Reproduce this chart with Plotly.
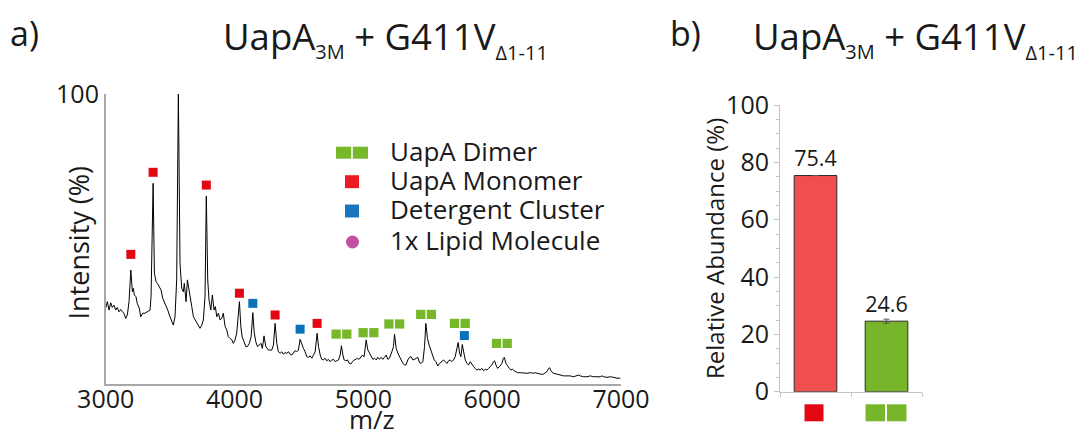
import plotly.graph_objects as go

W, H = 1084, 436

# ---------------- data: panel a (native MS spectrum) ----------------
mz = [3000, 3013, 3026, 3039, 3051, 3064, 3078, 3090, 3103, 3116, 3129, 3142, 3155, 3168, 3181,
      3195, 3207, 3215, 3222, 3235, 3245, 3261, 3272, 3287, 3305, 3323, 3344, 3352, 3368, 3378,
      3391, 3401, 3414, 3430, 3443, 3455, 3468, 3482, 3494, 3507, 3525, 3538, 3551, 3564, 3577,
      3590, 3603, 3610, 3624, 3634, 3645, 3655, 3668, 3681, 3694, 3707, 3719, 3732, 3746, 3758,
      3771, 3781, 3792, 3802, 3816, 3828, 3841, 3851, 3862, 3875, 3888, 3901, 3913, 3927, 3940,
      3952, 3965, 3979, 3991, 4004, 4017, 4030, 4038, 4049, 4059, 4074, 4087, 4100, 4115, 4129,
      4142, 4152, 4165, 4178, 4193, 4206, 4216, 4229, 4243, 4250, 4263, 4289, 4302, 4315, 4328,
      4341, 4354, 4367, 4380, 4393, 4406, 4419, 4431, 4444, 4457, 4470, 4483, 4496, 4509, 4522,
      4535, 4548, 4561, 4574, 4587, 4600, 4613, 4626, 4641, 4652, 4665, 4677, 4690, 4703, 4716,
      4729, 4742, 4755, 4768, 4781, 4794, 4807, 4820, 4830, 4841, 4851, 4864, 4877, 4890, 4903,
      4916, 4929, 4942, 4954, 4967, 4980, 4993, 5006, 5022, 5035, 5048, 5061, 5074, 5087, 5100,
      5112, 5125, 5138, 5151, 5164, 5177, 5190, 5203, 5221, 5234, 5242, 5255, 5268, 5281, 5294,
      5307, 5320, 5332, 5345, 5358, 5371, 5384, 5397, 5410, 5423, 5436, 5449, 5462, 5475, 5485,
      5498, 5511, 5524, 5537, 5550, 5563, 5578, 5591, 5610, 5623, 5635, 5648, 5661, 5674, 5687,
      5700, 5713, 5726, 5736, 5747, 5757, 5768, 5778, 5791, 5804, 5817, 5830, 5843, 5856, 5868,
      5881, 5894, 5907, 5920, 5933, 5946, 5959, 5972, 5985, 5998, 6011, 6019, 6029, 6042, 6057,
      6075, 6088, 6094, 6107, 6120, 6133, 6145, 6158, 6171, 6184, 6197, 6218, 6244, 6270, 6296,
      6322, 6334, 6347, 6373, 6399, 6425, 6438, 6446, 6459, 6477, 6503, 6529, 6554, 6580, 6606,
      6632, 6658, 6671, 6684, 6710, 6736, 6762, 6788, 6813, 6839, 6852, 6865, 6891, 6917, 6943,
      6969, 6995]
intensity = [26.1, 28.4, 25.5, 28.0, 26.4, 27.2, 25.5, 26.4, 24.9, 25.7, 24.9, 24.4, 22.6, 23.8, 28.4,
             39.3, 31.8, 33.0, 30.7, 30.1, 27.8, 26.1, 23.2, 24.4, 24.4, 24.9, 25.5, 30.1, 69.2, 38.2,
             35.3, 34.7, 33.6, 32.4, 29.5, 28.4, 26.7, 25.5, 23.8, 22.1, 20.3, 23.2, 35.9, 100.0, 41.6,
             33.0, 31.8, 34.7, 28.4, 35.9, 32.4, 30.1, 26.7, 23.2, 22.1, 20.9, 19.8, 19.2, 20.3, 22.1,
             30.1, 64.8, 35.9, 29.0, 25.5, 30.7, 25.5, 26.7, 23.2, 24.4, 22.1, 22.6, 24.4, 19.8, 18.6,
             16.3, 15.7, 15.2, 14.0, 15.2, 17.5, 23.2, 28.4, 19.8, 16.3, 14.6, 12.9, 12.9, 14.0, 16.3,
             24.6, 18.0, 14.6, 12.9, 13.4, 14.0, 12.3, 16.6, 12.9, 12.3, 11.7, 11.7, 13.4, 20.9, 14.0,
             11.1, 10.6, 11.1, 10.3, 10.8, 10.6, 11.1, 10.3, 10.0, 10.6, 11.5, 11.1, 11.7, 15.4, 13.4,
             12.3, 11.1, 9.4, 9.2, 9.7, 8.9, 10.0, 11.1, 17.5, 12.9, 10.0, 8.5, 8.3, 8.9, 8.0,
             8.5, 7.7, 8.3, 8.5, 7.7, 8.0, 8.3, 10.0, 13.2, 10.0, 8.3, 8.0, 8.3, 7.1, 6.9,
             7.7, 8.3, 8.5, 8.9, 8.5, 9.4, 10.0, 9.4, 15.2, 11.7, 10.6, 9.7, 8.5, 8.9, 8.3,
             9.2, 8.5, 9.2, 8.5, 9.2, 10.0, 8.5, 8.9, 11.1, 12.9, 17.2, 12.3, 10.6, 9.4, 8.3,
             7.1, 6.6, 6.6, 8.3, 9.2, 9.4, 8.3, 8.5, 8.9, 9.2, 7.4, 7.1, 7.7, 12.9, 20.9,
             15.7, 13.4, 11.7, 9.4, 8.3, 7.7, 6.2, 7.1, 7.7, 8.3, 7.7, 7.1, 8.0, 8.3, 7.7,
             8.3, 9.4, 11.7, 14.3, 10.6, 9.4, 13.6, 10.6, 8.3, 7.1, 6.6, 7.7, 6.6, 6.0, 5.4,
             4.8, 5.2, 4.8, 5.4, 4.6, 5.1, 4.8, 5.4, 6.0, 6.6, 7.7, 8.0, 6.6, 5.4, 6.0,
             7.1, 8.9, 9.2, 7.1, 6.0, 5.4, 4.8, 5.1, 4.6, 4.3, 3.9, 3.9, 3.7, 3.7, 3.9,
             3.7, 3.9, 3.7, 3.4, 3.4, 4.3, 5.4, 5.6, 4.3, 3.7, 3.4, 3.1, 2.8, 2.8, 2.8,
             2.5, 2.8, 3.1, 2.8, 2.5, 2.5, 2.8, 2.5, 2.5, 2.5, 2.8, 2.5, 2.3, 2.5, 2.3,
             2.0, 2.0]

# peak annotations (m/z of labelled peak, height of the label symbol in %)
mono_mz = [3195, 3368, 3564, 3781, 4038, 4315, 4641]
mono_label = [44.7, 73.0, 102.9, 68.6, 31.3, 23.8, 20.9]
det_mz = [4142, 4509, 5784]
det_label = [27.8, 18.9, 16.7]
dimer_mz = [4830, 5040, 5240, 5487, 5749, 6075]
dimer_label = [17.2, 17.7, 20.7, 24.0, 20.9, 14.0]

x_ticks = [3000, 4000, 5000, 6000, 7000]
legend_labels = ["UapA Dimer", "UapA Monomer", "Detergent Cluster", "1x Lipid Molecule"]

# ---------------- data: panel b (relative abundance) ----------------
bar_species = ["Monomer", "Dimer"]
bar_values = [75.4, 24.6]
bar_errors = [0.0, 0.7]

# ---------------- styles ----------------
FONT = "Open Sans"
TXT = "#1a1a1a"
RED = "#E30613"
BLUE = "#0A71B9"
GREEN = "#76B82A"
PURPLE = "#C2509F"
BAR_RED = "#EF4F4F"
BAR_GREEN = "#77B62A"
AX_A = "#a8a8a8"
AX_B = "#c4c4c4"


def px(x):
    return x / W


def py(y):
    return 1 - y / H


fig = go.Figure()

# spectrum
fig.add_trace(go.Scatter(x=mz, y=intensity, mode="lines",
                         line=dict(color="black", width=1),
                         xaxis="x", yaxis="y", hoverinfo="skip", showlegend=False))
# monomer + detergent labels
fig.add_trace(go.Scatter(x=mono_mz, y=mono_label, mode="markers",
                         marker=dict(symbol="square", size=9, color=RED, line=dict(width=0)),
                         cliponaxis=False, xaxis="x", yaxis="y", showlegend=False))
fig.add_trace(go.Scatter(x=det_mz, y=det_label, mode="markers",
                         marker=dict(symbol="square", size=9, color=BLUE, line=dict(width=0)),
                         cliponaxis=False, xaxis="x", yaxis="y", showlegend=False))

shapes = []
# dimer labels: pair of squares
for m, v in zip(dimer_mz, dimer_label):
    for a, b in [(-10, -0.7), (0.7, 10)]:
        shapes.append(dict(type="rect", xref="x", yref="y", xsizemode="pixel", ysizemode="pixel",
                           xanchor=m, yanchor=v, x0=a, x1=b, y0=-4.6, y1=4.6,
                           fillcolor=GREEN, line=dict(width=0)))

# bars
fig.add_trace(go.Bar(x=[0, 1], y=bar_values, width=0.6,
                     marker=dict(color=[BAR_RED, BAR_GREEN], line=dict(color="#2b2b2b", width=1)),
                     error_y=dict(type="data", array=bar_errors, color="#555555", thickness=1, width=3),
                     text=[f"{v:.1f}" for v in bar_values], textposition="outside",
                     textfont=dict(family=FONT, size=26, color=TXT),
                     cliponaxis=False, xaxis="x2", yaxis="y2", showlegend=False,
                     hovertext=bar_species))

# category symbols under the bars
shapes.append(dict(type="rect", xref="x2", yref="paper", xsizemode="pixel", ysizemode="pixel",
                   xanchor=0, yanchor=py(412.8), x0=-11, x1=8, y0=-8.5, y1=8.5,
                   fillcolor=RED, line=dict(width=0)))
for a, b in [(-21, -1.5), (0.5, 20)]:
    shapes.append(dict(type="rect", xref="x2", yref="paper", xsizemode="pixel", ysizemode="pixel",
                       xanchor=1, yanchor=py(412.8), x0=a, x1=b, y0=-8.5, y1=8.5,
                       fillcolor=GREEN, line=dict(width=0)))

# legend symbols
leg_y = [152.7, 181.7, 211.0, 242.0]
for a, b in [(-16, -0.8), (0.8, 16)]:
    shapes.append(dict(type="rect", xref="paper", yref="paper", xsizemode="pixel", ysizemode="pixel",
                       xanchor=px(352), yanchor=py(leg_y[0]), x0=a, x1=b, y0=-6, y1=6,
                       fillcolor=GREEN, line=dict(width=0)))
for yy, col in [(leg_y[1], "#ED1C24"), (leg_y[2], "#1A75BC")]:
    shapes.append(dict(type="rect", xref="paper", yref="paper", xsizemode="pixel", ysizemode="pixel",
                       xanchor=px(352), yanchor=py(yy), x0=-7, x1=7, y0=-6.5, y1=6.5,
                       fillcolor=col, line=dict(width=0)))
shapes.append(dict(type="circle", xref="paper", yref="paper", xsizemode="pixel", ysizemode="pixel",
                   xanchor=px(352.5), yanchor=py(leg_y[3]), x0=-6.5, x1=6.5, y0=-6.5, y1=6.5,
                   fillcolor=PURPLE, line=dict(width=0)))

annotations = []
leg_text_y = [151, 180, 209, 240]
for lab, yy in zip(legend_labels, leg_text_y):
    annotations.append(dict(text=lab, x=px(388), y=py(yy), xref="paper", yref="paper",
                            xanchor="left", yanchor="middle", showarrow=False,
                            font=dict(family=FONT, size=26, color=TXT)))

title_txt = ("UapA<span style='font-size:20px;baseline-shift:-9px'>3M</span> + "
             "G411V<span style='font-size:20px;baseline-shift:-10px'>Δ1-11</span>")
annotations += [
    dict(text="a)", x=px(8), y=py(33), xanchor="left", yanchor="middle"),
    dict(text="b)", x=px(668), y=py(33), xanchor="left", yanchor="middle"),
    dict(text=title_txt, x=px(221), y=py(38), xanchor="left", yanchor="middle"),
    dict(text=title_txt, x=px(751), y=py(38), xanchor="left", yanchor="middle"),
]
for a in annotations[-4:]:
    a.update(xref="paper", yref="paper", showarrow=False, font=dict(family=FONT, size=36.5, color=TXT))
annotations[-4]["font"]["size"] = 34
annotations[-3]["font"]["size"] = 34

annotations += [
    dict(text="Intensity (%)", x=px(78), y=py(242.5), textangle=-90, font=dict(size=27)),
    dict(text="m/z", x=px(372), y=py(419), font=dict(size=26)),
    dict(text="Relative Abundance (%)", x=px(715), y=py(249), textangle=-90, font=dict(size=24)),
]
for a in annotations[-3:]:
    a["font"].update(family=FONT, color=TXT)
    a.update(xref="paper", yref="paper", showarrow=False, xanchor="center", yanchor="middle")

tickfont = dict(family=FONT, size=25, color=TXT)
fig.update_layout(
    template="none",
    width=W, height=H,
    autosize=False,
    margin=dict(l=0, r=0, t=0, b=0, pad=0, autoexpand=False),
    paper_bgcolor="white", plot_bgcolor="white",
    font=dict(family=FONT, color=TXT),
    showlegend=False,
    shapes=shapes,
    annotations=annotations,
    xaxis=dict(domain=[px(105.7), px(621)], range=[3000, 7000], tickvals=x_ticks,
               showline=True, linecolor=AX_A, linewidth=1.5, ticks="", showgrid=False,
               zeroline=False, tickfont=tickfont, anchor="y", ticklabelstandoff=-8,
               automargin=False),
    yaxis=dict(domain=[py(384), py(94)], range=[0, 100], tickvals=[100],
               showline=True, linecolor=AX_A, linewidth=1.5, ticks="", showgrid=False,
               zeroline=False, tickfont=tickfont, anchor="x", ticklabelstandoff=0,
               automargin=False),
    xaxis2=dict(domain=[px(780), px(922)], range=[-0.5, 1.5], tickvals=[-0.5, 0.5, 1.5],
                showticklabels=False, ticks="outside", ticklen=4, tickcolor=AX_B,
                showline=True, linecolor=AX_B, linewidth=1, showgrid=False, zeroline=False,
                anchor="y2", automargin=False),
    yaxis2=dict(domain=[py(391.7), py(105)], range=[0, 100], tick0=0, dtick=20,
                ticks="outside", ticklen=5, tickcolor=AX_B,
                minor=dict(dtick=5, ticks="outside", ticklen=3, tickcolor=AX_B),
                showline=True, linecolor=AX_B, linewidth=1, showgrid=False, zeroline=False,
                tickfont=tickfont, anchor="x2", automargin=False),
)

# remove the default 8px page margin so the figure starts at the window corner
fig.write_html("out.html", config={"displayModeBar": False},
               post_script="document.body.style.margin='0';")
